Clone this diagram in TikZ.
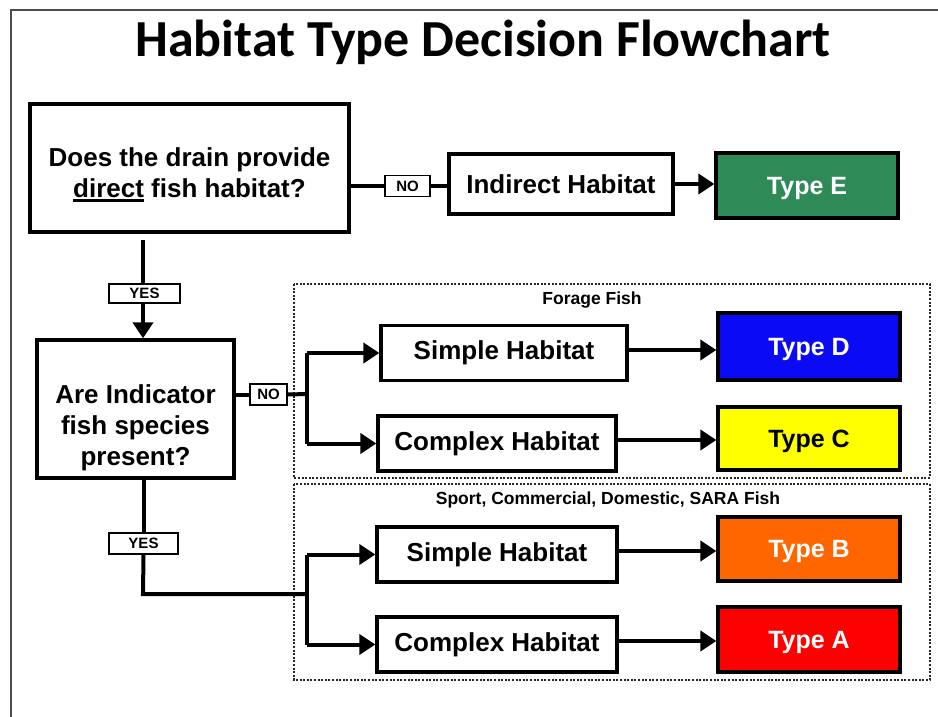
\documentclass[tikz,border=0pt]{standalone}
\usepackage{fontspec}
\setmainfont{Liberation Sans}
\newfontfamily\titlefont{Carlito}
\usetikzlibrary{arrows.meta}
\definecolor{tgreen}{RGB}{46,139,87}
\definecolor{tblue}{RGB}{10,10,245}
\definecolor{tyellow}{RGB}{255,255,0}
\definecolor{torange}{RGB}{255,102,0}
\definecolor{tred}{RGB}{255,0,0}
\newcommand\thickul[1]{\leavevmode\vtop{\hbox{#1}\kern2pt\hrule height 2.8pt}}
\newcommand\lowblock[3]{\raisebox{-#1}[0pt][0pt]{\parbox[c]{#2}{\centering\baselineskip=31pt #3}}}
\tikzset{
  bigbox/.style={draw=black,line width=3.4pt,fill=white,inner sep=0pt,align=center,font=\fontsize{26}{30}\selectfont\bfseries},
  typebox/.style={draw=black,line width=3.4pt,inner sep=0pt,text depth=0pt,text=white,font=\fontsize{25}{30}\selectfont\bfseries},
  lblbox/.style={draw=black,line width=1.8pt,fill=white,inner sep=0pt,font=\fontsize{15}{16}\selectfont\bfseries},
  conn/.style={line width=4pt},
  arr/.style={line width=4pt,-{Triangle[length=16pt,width=20pt]}},
  group/.style={draw=black!85,line width=2.2pt,dash pattern=on 2pt off 1.6pt},
  grouplbl/.style={font=\fontsize{17.5}{20}\selectfont\bfseries}
}
\begin{document}
\begin{tikzpicture}[x=1pt,y=-1pt]
\useasboundingbox (0,0) rectangle (938,717);
% frame
\draw[black!70,line width=2pt] (11,717) -- (11,10) -- (938,10);
% title
\node[font=\titlefont\fontsize{52}{56}\selectfont\bfseries] (title) at (483,42) {Habitat Type Decision Flowchart};
% groups
\draw[group] (294,284) rectangle (930,478);
\draw[group] (294,484) rectangle (930,680);
\node[grouplbl] (forage) at (592,300) {Forage Fish};
\node[grouplbl] (sport) at (608,500) {Sport, Commercial, Domestic, SARA Fish};
% nodes
\node[bigbox,minimum width=319pt,minimum height=128pt] (q1) at (189.5,168) {\lowblock{13pt}{310pt}{Does the drain provide\\\thickul{direct} fish habitat?}};
\node[lblbox,minimum width=45pt,minimum height=21pt] (no1) at (407.5,186) {NO};
\node[bigbox,minimum width=224pt,minimum height=60pt] (ind) at (561,184) {Indirect Habitat};
\node[typebox,fill=tgreen,minimum width=182pt,minimum height=65pt] (te) at (807,185.5) {Type E};
\node[lblbox,minimum width=71pt,minimum height=19pt] (yes1) at (144.5,293.5) {YES};
\node[bigbox,minimum width=197pt,minimum height=138pt] (q2) at (135.5,409) {\lowblock{25pt}{190pt}{Are Indicator\\fish species\\present?}};
\node[lblbox,minimum width=37pt,minimum height=21pt] (no2) at (268.5,394.5) {NO};
\node[bigbox,minimum width=246pt,minimum height=55pt] (s1) at (504,353) {Simple Habitat};
\node[bigbox,minimum width=238pt,minimum height=55pt] (c1) at (497,443.5) {Complex Habitat};
\node[typebox,fill=tblue,minimum width=182pt,minimum height=67pt] (td) at (809,346.5) {Type D};
\node[typebox,fill=tyellow,text=black,minimum width=182pt,minimum height=63pt] (tc) at (809,438.5) {Type C};
\node[bigbox,minimum width=240pt,minimum height=55pt] (s2) at (497,554.5) {Simple Habitat};
\node[bigbox,minimum width=240pt,minimum height=55pt] (c2) at (497,644.5) {Complex Habitat};
\node[typebox,fill=torange,minimum width=182pt,minimum height=64pt] (tb) at (809,549) {Type B};
\node[typebox,fill=tred,minimum width=182pt,minimum height=65pt] (ta) at (809,639.5) {Type A};
\node[lblbox,minimum width=69pt,minimum height=21pt] (yes2) at (143.5,543.5) {YES};
% coordinates
\coordinate (top1) at (143,240);
\coordinate (b1) at (307,394);
\coordinate (b2) at (307,594);
\coordinate (corner2) at (143,594);
% connectors
\draw[conn] (q1.east |- no1) -- (no1.west);
\draw[conn] (no1.east) -- (ind.west |- no1);
\draw[arr] (ind.east) -- (te.west |- ind);
\draw[conn] (top1) -- (yes1.north -| top1);
\draw[arr] (yes1.south -| top1) -- (q2.north -| top1);
\draw[conn] (q2.east |- no2) -- (no2.west);
\draw[conn] (no2.east) -- (b1);
\draw[conn] (b1 |- s1) -- (b1 |- c1);
\draw[arr] (b1 |- s1) -- (s1.west);
\draw[arr] (b1 |- c1) -- (c1.west);
\draw[arr] (s1.east |- 0,350) -- (td.west |- 0,350);
\draw[arr] (c1.east |- 0,440) -- (tc.west |- 0,440);
\draw[conn] (q2.south -| yes2) -- (yes2.north);
\draw[conn] (yes2.south) -- (corner2) -- (b2);
\draw[conn] (b2 |- s2) -- (b2 |- c2);
\draw[arr] (b2 |- s2) -- (s2.west);
\draw[arr] (b2 |- c2) -- (c2.west);
\draw[arr] (s2.east |- 0,551) -- (tb.west |- 0,551);
\draw[arr] (c2.east |- 0,641) -- (ta.west |- 0,641);
\end{tikzpicture}
\end{document}
